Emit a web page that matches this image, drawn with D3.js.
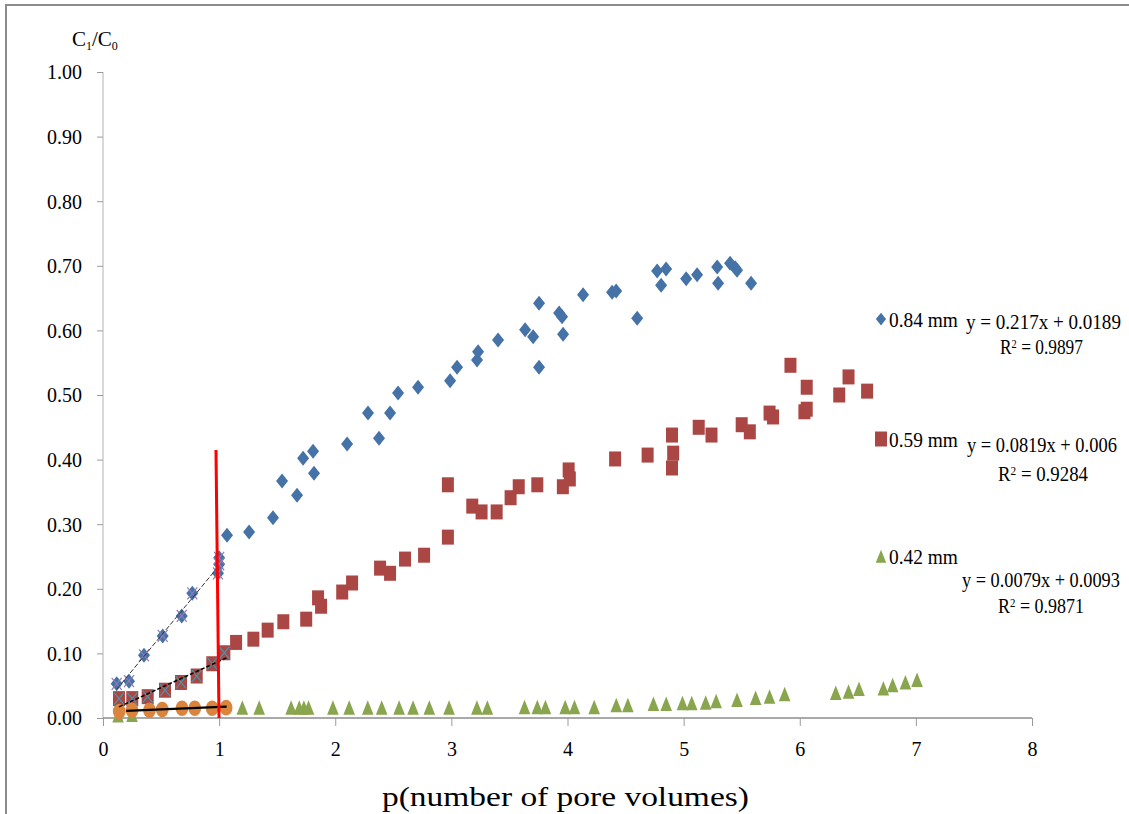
<!DOCTYPE html>
<html><head><meta charset="utf-8">
<script src="https://cdn.jsdelivr.net/npm/d3@7"></script>
<style>
body{margin:0;background:#fff}
svg{display:block}
svg text{font-family:"Liberation Serif","Times New Roman",serif !important;fill:#000}
</style>
</head><body>
<svg id="chart" width="1129" height="814"></svg>
<script>
// ---------- DATA ----------
const xTickValues = [0, 1, 2, 3, 4, 5, 6, 7, 8];
const yTickValues = [0, 0.1, 0.2, 0.3, 0.4, 0.5, 0.6, 0.7, 0.8, 0.9, 1.0];
const xAxisTitle = "p(number of pore volumes)";
const legendNames = ["0.84 mm", "0.59 mm", "0.42 mm"];
const equations = ["y = 0.217x + 0.0189", "y = 0.0819x + 0.006", "y = 0.0079x + 0.0093"];
const rSquared = ["0.9897", "0.9284", "0.9871"];
const trendSlope = [0.217, 0.0819, 0.0079];
const trendIntercept = [0.0189, 0.006, 0.0093];
const trendRange = [[0.118, 1.0], [0.138, 1.065], [0.2, 1.065]];

// 0.84 mm (blue diamonds)
const s084 = [[0.118,0.053],[0.224,0.057],[0.353,0.097],[0.514,0.127],[0.678,0.158],[0.769,0.193],
 [0.99,0.224],[1.0,0.238],[1.0,0.248],[1.068,0.283],[1.258,0.288],[1.464,0.310],[1.542,0.367],
 [1.671,0.345],[1.723,0.402],[1.809,0.413],[1.817,0.379],[2.102,0.424],[2.282,0.472],[2.377,0.433],
 [2.472,0.472],[2.541,0.503],[2.713,0.512],[2.989,0.522],[3.049,0.543],[3.221,0.554],[3.230,0.567],
 [3.402,0.585],[3.635,0.601],[3.704,0.590],[3.755,0.642],[3.755,0.543],[3.928,0.627],[3.953,0.621],
 [3.962,0.594],[4.134,0.655],[4.384,0.659],[4.419,0.661],[4.600,0.619],[4.772,0.692],[4.849,0.695],
 [4.806,0.670],[5.022,0.680],[5.116,0.686],[5.289,0.698],[5.297,0.673],[5.400,0.704],[5.444,0.697],
 [5.460,0.693],[5.581,0.673]];
// 0.59 mm (red squares)
const s059 = [[0.138,0.030],[0.252,0.030],[0.385,0.033],[0.534,0.043],[0.672,0.055],[0.807,0.065],
 [0.941,0.084],[1.045,0.101],[1.146,0.117],[1.295,0.122],[1.418,0.136],[1.553,0.149],[1.75,0.153],
 [1.852,0.186],[1.878,0.173],[2.06,0.195],[2.145,0.209],[2.386,0.232],[2.472,0.224],[2.601,0.246],
 [2.765,0.252],[2.97,0.280],[2.97,0.361],[3.18,0.328],[3.26,0.319],[3.39,0.319],[3.51,0.341],
 [3.58,0.358],[3.74,0.361],[3.96,0.358],[4.01,0.384],[4.02,0.370],[4.41,0.401],[4.69,0.407],
 [4.90,0.438],[4.91,0.410],[4.90,0.387],[5.13,0.450],[5.24,0.438],[5.50,0.454],[5.57,0.443],
 [5.74,0.472],[5.77,0.466],[5.92,0.546],[6.06,0.512],[6.04,0.474],[6.06,0.478],[6.34,0.500],
 [6.42,0.528],[6.58,0.506]];
// 0.42 mm (green triangles)
const s042 = [[0.13,0.003],[0.25,0.004],[1.20,0.015],[1.345,0.015],[1.62,0.015],[1.69,0.015],[1.73,0.015],
 [1.77,0.015],[1.98,0.015],[2.12,0.015],[2.28,0.015],[2.40,0.015],[2.55,0.015],[2.67,0.015],
 [2.81,0.015],[2.98,0.015],[3.22,0.015],[3.31,0.015],[3.63,0.016],[3.74,0.016],[3.81,0.016],
 [3.98,0.016],[4.06,0.016],[4.23,0.016],[4.42,0.019],[4.52,0.019],[4.74,0.021],[4.85,0.021],
 [4.99,0.022],[5.07,0.022],[5.19,0.023],[5.28,0.025],[5.46,0.027],[5.62,0.030],[5.74,0.032],
 [5.87,0.036],[6.31,0.038],[6.42,0.040],[6.51,0.044],[6.72,0.045],[6.80,0.050],[6.91,0.054],
 [7.01,0.058]];
// early points marked with crosses (fitted subsets)
const s084Early = [[0.118,0.053],[0.224,0.057],[0.353,0.097],[0.514,0.127],[0.678,0.158],[0.769,0.193],
 [0.99,0.224],[1.0,0.238],[1.0,0.248]];
const s059Early = [[0.138,0.030],[0.252,0.030],[0.385,0.033],[0.534,0.043],[0.672,0.055],[0.807,0.065],
 [0.941,0.084],[1.045,0.101]];
// early points of 0.42 mm (orange circles)
const s042Early = [[0.14,0.010],[0.25,0.012],[0.40,0.012],[0.51,0.013],[0.68,0.015],[0.79,0.015],
 [0.94,0.015],[1.06,0.016]];
// red reference line (p = 1)
const refLine = [[0.973,0.415],[0.999,0.0]];

// ---------- CHART ----------
const svg = d3.select("#chart");
const x = d3.scaleLinear().domain([0, 8]).range([103, 1032]);
const y = d3.scaleLinear().domain([0, 1]).range([718, 72]);
const serif = '"Liberation Serif","Times New Roman",serif';

// condensed text: fit natural width into target width using a horizontal scale
function fitText(sel, px, py, target) {
  const w = sel.node().getComputedTextLength();
  const s = Math.min(1.4, target / w);
  sel.attr("transform", `translate(${px},${py}) scale(${s},1)`);
  return sel;
}

// outer frame (top/left visible)
svg.append("rect").attr("x", 6).attr("y", 5).attr("width", 1200).attr("height", 900)
  .attr("fill", "none").attr("stroke", "#8c8c8c").attr("stroke-width", 2);

// axes
const yAxis = d3.axisLeft(y).tickValues(yTickValues).tickFormat(d3.format(".2f")).tickSize(6).tickPadding(15);
const gy = svg.append("g").attr("transform", "translate(103,0)").call(yAxis)
  .attr("font-family", serif).attr("font-size", 20);
gy.select(".domain").attr("stroke", "#bfbfbf").attr("stroke-width", 1.2).attr("d", "M0,72V718");
gy.selectAll(".tick line").attr("stroke", "#9a9a9a");
gy.selectAll("text").style("font-family", serif).style("font-size", "20px").attr("fill", "#000").attr("dy", "0.34em");

const xAxis = d3.axisBottom(x).tickValues(xTickValues).tickFormat(d3.format("d")).tickSize(8).tickPadding(16);
const gx = svg.append("g").attr("transform", "translate(0,718)").call(xAxis)
  .attr("font-family", serif).attr("font-size", 20);
gx.select(".domain").attr("stroke", "#8c8c8c").attr("stroke-width", 1.5).attr("d", "M103,0H1032");
gx.selectAll(".tick line").attr("stroke", "#9a9a9a");
gx.selectAll("text").style("font-family", serif).style("font-size", "20px").attr("fill", "#000");

// titles
fitText(svg.append("text").style("font-size", "27px").text(xAxisTitle), 382, 806, 367);
const yl = svg.append("text").attr("x", 72).attr("y", 46).style("font-size", "21px");
yl.append("tspan").text("C");
yl.append("tspan").style("font-size", "12px").attr("dy", 4).text("1");
yl.append("tspan").attr("dy", -4).text("/C");
yl.append("tspan").style("font-size", "12px").attr("dy", 4).text("0");

// marker shapes
const diamondPath = "M0,-7.5L6,0L0,7.5L-6,0Z";
const squarePath = "M-6,-7.5H6V7.5H-6Z";
const trianglePath = "M0,-8L5.8,6.5H-5.8Z";
const crossPath = "M-5,-6L5,6M-5,6L5,-6";
const cBlue = "#4572A7", cRed = "#AA4643", cGreen = "#89A54E", cPurple = "#8f7ab5", cAqua = "#4198AF", cOrange = "#DB843D";

function plot(data, path, fill) {
  svg.append("g").selectAll("path").data(data).join("path")
    .attr("transform", d => `translate(${x(d[0])},${y(d[1])})`)
    .attr("d", path).attr("fill", fill);
}
plot(s084, diamondPath, cBlue);
plot(s059, squarePath, cRed);
plot(s042, trianglePath, cGreen);

// crosses
svg.append("g").selectAll("path").data(s084Early).join("path")
  .attr("transform", d => `translate(${x(d[0])},${y(d[1])})`)
  .attr("d", crossPath).attr("fill", "none").attr("stroke", cPurple).attr("stroke-width", 1.2);
svg.append("g").selectAll("path").data(s059Early).join("path")
  .attr("transform", d => `translate(${x(d[0])},${y(d[1])})`)
  .attr("d", crossPath).attr("fill", "none").attr("stroke", cAqua).attr("stroke-width", 1.2);

// orange circles
svg.append("g").selectAll("ellipse").data(s042Early).join("ellipse")
  .attr("cx", d => x(d[0])).attr("cy", d => y(d[1])).attr("rx", 6.4).attr("ry", 7.8).attr("fill", cOrange);

// trendlines
const line = d3.line().x(d => x(d[0])).y(d => y(d[1]));
const trendStyles = [{w: 1, dash: "5,2"}, {w: 1.5, dash: "4,2"}, {w: 2.2, dash: null}];
trendRange.forEach((r, i) => {
  const pts = r.map(v => [v, trendSlope[i] * v + trendIntercept[i]]);
  const p = svg.append("path").attr("d", line(pts)).attr("fill", "none")
    .attr("stroke", i === 0 ? "#333" : "#000").attr("stroke-width", trendStyles[i].w);
  if (trendStyles[i].dash) p.attr("stroke-dasharray", trendStyles[i].dash);
});

// red reference line
svg.append("path").attr("d", line(refLine)).attr("stroke", "#ff0000").attr("stroke-width", 3).attr("fill", "none");

// legend
const legendMarkers = [diamondPath, squarePath, trianglePath];
const legendColors = [cBlue, cRed, cGreen];
const legendY = [319, 439, 557];
const legendMarkerScale = [0.85, 1.0, 0.9];
const nameBaseline = [327, 447, 564];
const eqX = [966, 967, 962], eqW = [155, 150, 158], eqBase = [329, 452, 587];
const r2X = [1000, 998, 998], r2W = [83, 90, 86], r2Base = [354, 481, 613];
legendNames.forEach((n, i) => {
  svg.append("path").attr("d", legendMarkers[i]).attr("fill", legendColors[i])
    .attr("transform", `translate(881,${legendY[i]}) scale(${legendMarkerScale[i]})`);
  fitText(svg.append("text").style("font-size", "21px").text(n), 889, nameBaseline[i], 69);
  fitText(svg.append("text").style("font-size", "21px").text(equations[i]), eqX[i], eqBase[i], eqW[i]);
  const t = svg.append("text").style("font-size", "20px");
  t.append("tspan").text("R");
  t.append("tspan").style("font-size", "12px").attr("dy", -6).text("2");
  t.append("tspan").attr("dy", 6).text(" = " + rSquared[i]);
  fitText(t, r2X[i], r2Base[i], r2W[i]);
});
</script>
</body></html>
